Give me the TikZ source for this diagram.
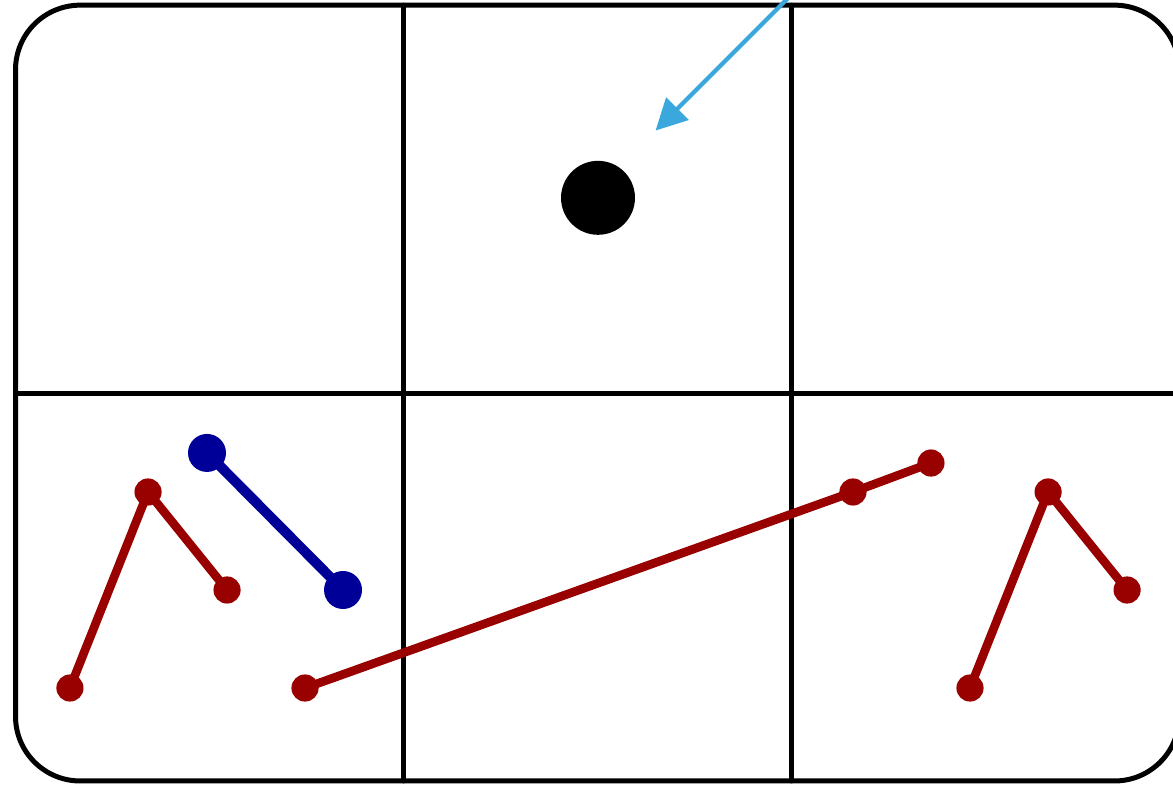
\documentclass[tikz,border=0pt]{standalone}
\usepackage{tikz}
\usetikzlibrary{arrows.meta}
\usepackage{xcolor}
\definecolor{linkred}{HTML}{990000}
\definecolor{linkblue}{HTML}{000099}
\definecolor{arrowblue}{HTML}{3AA8DC}

\begin{document}
\begin{tikzpicture}[line cap=round,
  redlink/.style={linkred,line width=1.9pt},
  bluelink/.style={linkblue,line width=2.2pt}]
\useasboundingbox (-0.12,-0.039) rectangle (8.952,6.04);
\draw[line width=1.1pt,rounded corners=0.5cm] (0,0) rectangle (9,6);
\draw[line width=1.1pt] (3,0) -- (3,6);
\draw[line width=1.1pt] (6,0) -- (6,6);
\draw[line width=1.1pt] (0,3) -- (9,3);
\fill[black] (4.505,4.51) circle (0.286);
\coordinate (tail) at (6.05,6.13);
\coordinate (tip) at (4.95,5.03);
\draw[arrowblue,line width=0.95pt,-{Triangle[length=2.4mm,width=2.4mm]}] (tail) -- (tip);
% left arm
\coordinate (a1) at (0.421,0.719);
\coordinate (a2) at (1.025,2.235);
\coordinate (a3) at (1.636,1.477);
% long arm
\coordinate (b1) at (2.239,0.719);
\coordinate (b2) at (6.477,2.235);
\coordinate (b3) at (7.08,2.459);
% right arm
\coordinate (c1) at (7.382,0.719);
\coordinate (c2) at (7.986,2.235);
\coordinate (c3) at (8.597,1.477);
% blue bar
\coordinate (d1) at (1.481,2.537);
\coordinate (d2) at (2.533,1.477);
\draw[redlink] (a1) -- (a2) -- (a3);
\draw[redlink] (b1) -- (b2) -- (b3);
\draw[redlink] (c1) -- (c2) -- (c3);
\foreach \p in {a1,a2,a3,b1,b2,b3,c1,c2,c3}
  \fill[linkred] (\p) circle (0.105);
\draw[bluelink] (d1) -- (d2);
\fill[linkblue] (d1) circle (0.147);
\fill[linkblue] (d2) circle (0.147);
\end{tikzpicture}
\end{document}
